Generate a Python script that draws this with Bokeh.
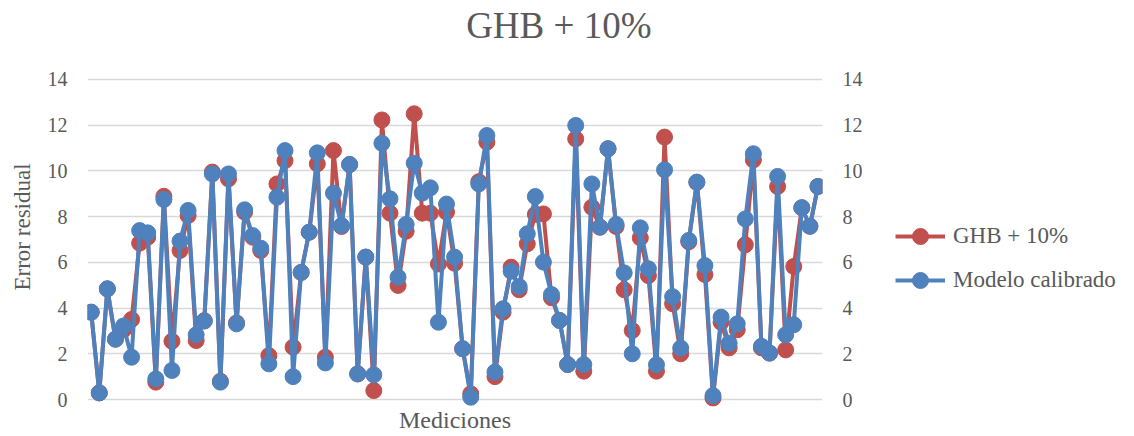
from bokeh.plotting import figure
from bokeh.layouts import row
from bokeh.models import Range1d, LinearAxis, FixedTicker, Legend, LegendItem, Title, Label
from bokeh.embed import file_html
from bokeh.resources import INLINE

# ---- data ----
mediciones = list(range(1, 92))

ghb_10 = [3.82, 0.29, 4.84, 2.64, 3.05, 3.50, 6.84, 7.10, 0.76, 8.89,
          2.55, 6.52, 8.05, 2.58, 3.45, 9.95, 0.80, 9.65, 3.35, 8.20,
          7.10, 6.52, 1.92, 9.43, 10.45, 2.29, 5.56, 7.32, 10.31, 1.85,
          10.89, 7.57, 10.28, 1.12, 6.23, 0.39, 12.23, 8.15, 4.99, 7.36,
          12.50, 8.15, 8.15, 5.93, 8.20, 5.96, 2.22, 0.25, 9.53, 11.26,
          1.00, 3.82, 5.79, 4.80, 6.81, 8.10, 8.12, 4.45, 3.46, 1.53,
          11.40, 1.24, 8.41, 7.54, 10.97, 7.57, 4.80, 3.02, 7.07, 5.42,
          1.24, 11.48, 4.19, 2.00, 6.90, 9.50, 5.47, 0.06, 3.38, 2.26,
          3.05, 6.77, 10.48, 2.26, 2.03, 9.32, 2.17, 5.82, 8.39, 7.58,
          9.32]

modelo_calibrado = [3.82, 0.29, 4.84, 2.64, 3.22, 1.85, 7.39, 7.29, 0.90, 8.75,
                    1.27, 6.93, 8.27, 2.83, 3.43, 9.87, 0.76, 9.87, 3.31, 8.30,
                    7.17, 6.62, 1.56, 8.85, 10.89, 1.00, 5.56, 7.32, 10.79, 1.60,
                    9.03, 7.61, 10.28, 1.12, 6.23, 1.08, 11.21, 8.78, 5.35, 7.66,
                    10.34, 9.03, 9.26, 3.38, 8.55, 6.23, 2.22, 0.10, 9.43, 11.55,
                    1.20, 3.97, 5.61, 4.94, 7.25, 8.88, 6.01, 4.59, 3.46, 1.53,
                    11.99, 1.53, 9.43, 7.54, 10.97, 7.66, 5.54, 2.00, 7.51, 5.72,
                    1.52, 10.05, 4.50, 2.25, 6.96, 9.51, 5.86, 0.17, 3.60, 2.46,
                    3.31, 7.90, 10.75, 2.33, 2.03, 9.76, 2.83, 3.27, 8.39, 7.58,
                    9.32]

y_ticks = [0, 2, 4, 6, 8, 10, 12, 14]

title_text = "GHB + 10%"
series_names = ["GHB + 10%", "Modelo calibrado"]
x_title = "Mediciones"
y_title = "Error residual"

# ---- style ----
RED = "#C0504D"
BLUE = "#4F81BD"
TXT = "#595959"
GRID = "#D9D9D9"
FONT = "Liberation Serif"

# main chart (frame reaches the top so the title can sit inside it)
p = figure(width=872, height=436, output_backend="svg", toolbar_location=None,
           x_range=Range1d(0.542, 91.56), y_range=Range1d(-0.306, 17.456),
           min_border_left=87, min_border_right=50,
           min_border_top=0, min_border_bottom=30)
p.outline_line_color = None
p.background_fill_color = "white"
p.border_fill_color = "white"

p.xgrid.visible = False
p.ygrid.ticker = FixedTicker(ticks=y_ticks)
p.ygrid.grid_line_color = GRID
p.ygrid.grid_line_width = 1.7

# x axis: title only
xa = p.xaxis[0]
xa.ticker = FixedTicker(ticks=[])
xa.axis_line_color = None
xa.major_tick_line_color = None
xa.minor_tick_line_color = None
xa.major_tick_out = 0
xa.major_tick_in = 0
xa.major_label_standoff = 0
xa.axis_label = x_title
xa.axis_label_standoff = 0
xa.axis_label_text_font = FONT
xa.axis_label_text_font_size = "24px"
xa.axis_label_text_font_style = "normal"
xa.axis_label_text_color = TXT


def style_axis(ax):
    ax.ticker = FixedTicker(ticks=y_ticks)
    ax.axis_line_color = None
    ax.major_tick_line_color = None
    ax.minor_tick_line_color = None
    ax.major_tick_out = 0
    ax.major_tick_in = 0
    ax.major_label_standoff = 20
    ax.major_label_text_font = FONT
    ax.major_label_text_font_size = "20px"
    ax.major_label_text_color = TXT


style_axis(p.yaxis[0])
right_axis = LinearAxis()
style_axis(right_axis)
p.add_layout(right_axis, "right")

# y-axis title as a side title (positioned with offset/standoff)
p.add_layout(Title(text=y_title, align="left", offset=116, standoff=15,
                   vertical_align="top",
                   text_font=FONT, text_font_size="23px", text_color=TXT,
                   text_font_style="normal"), "left")

# chart title
p.add_layout(Label(x=471.3, y=380.7, x_units="screen", y_units="screen", text=title_text,
                   text_align="center", text_baseline="alphabetic",
                   text_font=FONT, text_font_size="37px", text_color=TXT))

r_line = p.line(mediciones, ghb_10, line_color=RED, line_width=4, line_join="round")
r_pts = p.scatter(mediciones, ghb_10, size=16, fill_color=RED, line_color=RED)
b_line = p.line(mediciones, modelo_calibrado, line_color=BLUE, line_width=4, line_join="round")
b_pts = p.scatter(mediciones, modelo_calibrado, size=16, fill_color=BLUE, line_color=BLUE)

# legend panel
pl = figure(width=262, height=436, output_backend="svg", toolbar_location=None,
            x_range=Range1d(0, 1), y_range=Range1d(0, 1),
            x_axis_location=None, y_axis_location=None, min_border=0)
pl.outline_line_color = None
pl.xgrid.visible = False
pl.ygrid.visible = False
lr_line = pl.line([-5], [-5], line_color=RED, line_width=4)
lr_pts = pl.scatter([-5], [-5], size=16, fill_color=RED, line_color=RED)
lb_line = pl.line([-5], [-5], line_color=BLUE, line_width=4)
lb_pts = pl.scatter([-5], [-5], size=16, fill_color=BLUE, line_color=BLUE)

legend = Legend(items=[LegendItem(label=series_names[0], renderers=[lr_line, lr_pts]),
                       LegendItem(label=series_names[1], renderers=[lb_line, lb_pts])],
                location=(23, 106), orientation="vertical",
                glyph_width=50, glyph_height=40, label_standoff=8, spacing=4,
                padding=0, margin=0, border_line_color=None, background_fill_alpha=0,
                label_text_font=FONT, label_text_font_size="23px", label_text_color=TXT)
pl.add_layout(legend)

open("out.html", "w").write(file_html(row(p, pl), INLINE))
